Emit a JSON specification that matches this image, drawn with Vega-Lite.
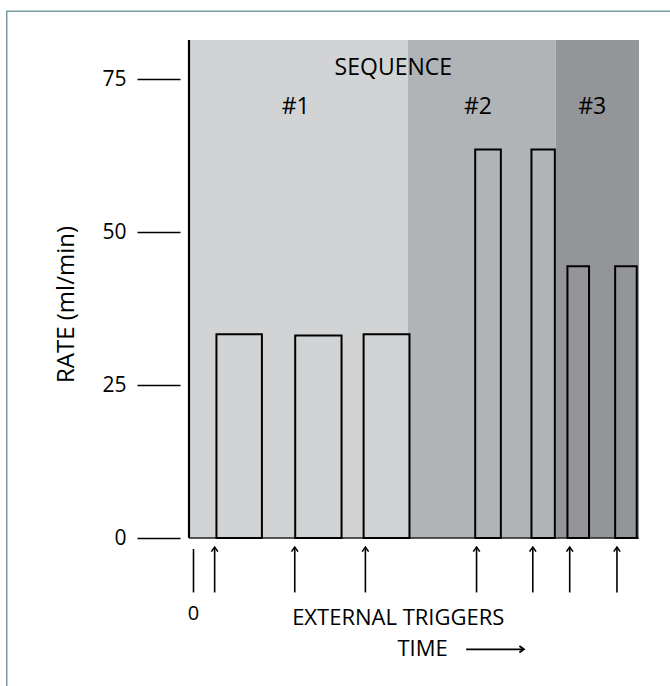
{
  "$schema": "https://vega.github.io/schema/vega-lite/v6.json",
  "width": 450,
  "height": 498,
  "autosize": {"type": "none"},
  "padding": {"left": 189, "top": 40, "right": 31, "bottom": 148},
  "background": "white",
  "config": {"view": {"stroke": null}, "font": "Open Sans"},
  "data": {"values": [{}]},
  "datasets": {
    "bands": [
      {"sequence": "#1", "start": -1, "end": 47.6},
      {"sequence": "#2", "start": 47.6, "end": 80.5},
      {"sequence": "#3", "start": 80.5, "end": 99}
    ],
    "bars": [
      {"sequence": "#1", "start": 5.1, "end": 15.2, "rate": 33.3},
      {"sequence": "#1", "start": 22.6, "end": 32.9, "rate": 33.1},
      {"sequence": "#1", "start": 37.8, "end": 48.0, "rate": 33.3},
      {"sequence": "#2", "start": 62.6, "end": 68.3, "rate": 63.5},
      {"sequence": "#2", "start": 75.1, "end": 80.3, "rate": 63.5},
      {"sequence": "#3", "start": 83.1, "end": 87.9, "rate": 44.4},
      {"sequence": "#3", "start": 93.7, "end": 98.5, "rate": 44.4}
    ],
    "triggers": [
      {"t": 4.7}, {"t": 22.5}, {"t": 38.2}, {"t": 62.9}, {"t": 75.4}, {"t": 83.6}, {"t": 94.1}
    ],
    "labels": [
      {"text": "SEQUENCE", "t": 44.4, "r": 76.8, "size": 23},
      {"text": "#1", "t": 22.7, "r": 70.4, "size": 23},
      {"text": "#2", "t": 63.2, "r": 70.4, "size": 23},
      {"text": "#3", "t": 88.6, "r": 70.4, "size": 23},
      {"text": "0", "t": 0, "r": -12.5, "size": 20},
      {"text": "EXTERNAL TRIGGERS", "t": 45.5, "r": -13.0, "size": 22},
      {"text": "TIME", "t": 50.9, "r": -18.2, "size": 22}
    ]
  },
  "layer": [
    {
      "mark": {"type": "rect", "fill": "transparent", "stroke": "#7b99a1", "strokeWidth": 1.5, "clip": false},
      "encoding": {
        "x": {"datum": -41.5, "type": "quantitative", "scale": {"domain": [-1, 99], "nice": false, "zero": false}, "axis": null},
        "x2": {"datum": 250},
        "y": {"datum": 86.1, "type": "quantitative"},
        "y2": {"datum": -80}
      }
    },
    {
      "data": {"name": "bands"},
      "mark": {"type": "rect"},
      "encoding": {
        "x": {"field": "start", "type": "quantitative", "scale": {"domain": [-1, 99], "nice": false, "zero": false}, "axis": null},
        "x2": {"field": "end"},
        "y": {"datum": 0, "type": "quantitative", "scale": {"domain": [0, 81.4], "nice": false}, "axis": {
          "values": [0, 25, 50, 75],
          "offset": 9,
          "domain": false,
          "grid": false,
          "tickSize": 43,
          "tickWidth": 1.6,
          "tickColor": "black",
          "labelFontSize": 21,
          "labelColor": "black",
          "labelPadding": 11,
          "title": "RATE (ml/min)",
          "titleFontSize": 24,
          "titleFontWeight": "normal",
          "titleColor": "black",
          "titleBaseline": "middle",
          "titleX": -114,
          "titleY": 264
        }},
        "y2": {"datum": 81.4},
        "color": {"field": "sequence", "type": "nominal", "scale": {"domain": ["#1", "#2", "#3"], "range": ["#d1d3d4", "#b1b4b7", "#939598"]}, "legend": null}
      }
    },
    {
      "mark": {"type": "rule", "color": "black", "strokeWidth": 2.2},
      "encoding": {
        "x": {"datum": -1, "type": "quantitative"},
        "y": {"datum": 0, "type": "quantitative"},
        "y2": {"datum": 81.4}
      }
    },
    {
      "mark": {"type": "rule", "color": "#222222", "strokeWidth": 1.3},
      "encoding": {
        "x": {"datum": -1, "type": "quantitative"},
        "x2": {"datum": 99},
        "y": {"datum": 0, "type": "quantitative"}
      }
    },
    {
      "data": {"name": "bars"},
      "mark": {"type": "rect", "fill": "transparent", "stroke": "black", "strokeWidth": 2},
      "encoding": {
        "x": {"field": "start", "type": "quantitative"},
        "x2": {"field": "end"},
        "y": {"field": "rate", "type": "quantitative"},
        "y2": {"datum": 0}
      }
    },
    {
      "data": {"name": "triggers"},
      "mark": {"type": "rule", "color": "black", "strokeWidth": 1.6, "clip": false},
      "encoding": {
        "x": {"field": "t", "type": "quantitative"},
        "y": {"datum": -1.5, "type": "quantitative"},
        "y2": {"datum": -8.9}
      }
    },
    {
      "data": {"name": "triggers"},
      "mark": {"type": "point", "shape": "M-1,0.8L0,-0.6L1,0.8", "filled": false, "stroke": "black", "strokeWidth": 1.6, "size": 42, "opacity": 1},
      "encoding": {
        "x": {"field": "t", "type": "quantitative"},
        "y": {"datum": -1.8, "type": "quantitative"}
      }
    },
    {
      "mark": {"type": "rule", "color": "black", "strokeWidth": 1.6},
      "encoding": {
        "x": {"datum": 0, "type": "quantitative"},
        "y": {"datum": -1.8, "type": "quantitative"},
        "y2": {"datum": -8.9}
      }
    },
    {
      "mark": {"type": "rule", "color": "black", "strokeWidth": 1.8},
      "encoding": {
        "x": {"datum": 60.6, "type": "quantitative"},
        "x2": {"datum": 73.2},
        "y": {"datum": -18.2, "type": "quantitative"}
      }
    },
    {
      "mark": {"type": "point", "shape": "M-1,0.8L0,-0.6L1,0.8", "filled": false, "stroke": "black", "strokeWidth": 1.8, "size": 42, "angle": 90, "opacity": 1},
      "encoding": {
        "x": {"datum": 73.0, "type": "quantitative"},
        "y": {"datum": -18.2, "type": "quantitative"}
      }
    },
    {
      "data": {"name": "labels"},
      "mark": {"type": "text", "color": "black", "align": "center", "baseline": "middle"},
      "encoding": {
        "x": {"field": "t", "type": "quantitative"},
        "y": {"field": "r", "type": "quantitative"},
        "text": {"field": "text"},
        "size": {"field": "size", "type": "quantitative", "scale": null}
      }
    }
  ]
}
